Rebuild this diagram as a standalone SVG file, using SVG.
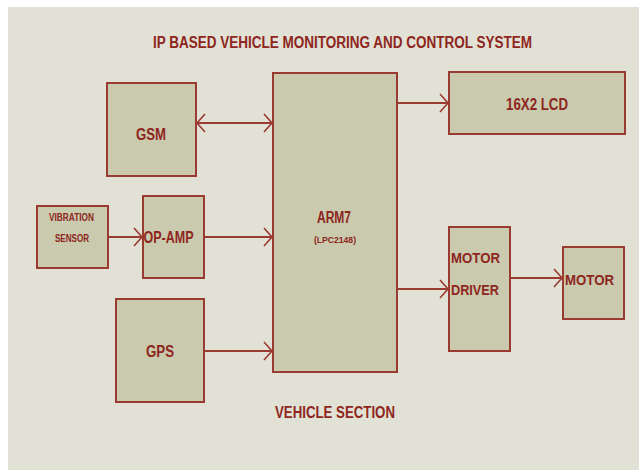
<svg xmlns="http://www.w3.org/2000/svg" width="639" height="470" viewBox="0 0 639 470">
<style>
.box{fill:#c9caae;stroke:#9a3a30;stroke-width:2}
.t{font-family:"Liberation Sans",Arial,sans-serif;font-weight:bold;fill:#8e2620}
.ln{stroke:#9a3a30;stroke-width:2;fill:none}
.hd{stroke:#9a3a30;stroke-width:1.6;fill:none}
</style>
<rect x="0" y="0" width="639" height="470" fill="#ffffff"/>
<rect x="8" y="7" width="631" height="463" fill="#e2e1d5"/>
<text class="t" x="153" y="48" font-size="16" textLength="379" lengthAdjust="spacingAndGlyphs">IP BASED VEHICLE MONITORING  AND CONTROL SYSTEM</text>
<g id="connectors">
<line class="ln" x1="197" y1="123" x2="272" y2="123"/>
<polyline class="hd" points="205,114 197,123 205,132"/>
<polyline class="hd" points="264,114 272,123 264,132"/>
<line class="ln" x1="108" y1="237" x2="142" y2="237"/>
<polyline class="hd" points="134,228 142,237 134,246"/>
<line class="ln" x1="204" y1="237" x2="272" y2="237"/>
<polyline class="hd" points="264,228 272,237 264,246"/>
<line class="ln" x1="204" y1="351" x2="272" y2="351"/>
<polyline class="hd" points="264,342 272,351 264,360"/>
<line class="ln" x1="397" y1="103" x2="448" y2="103"/>
<polyline class="hd" points="440,94 448,103 440,112"/>
<line class="ln" x1="397" y1="289" x2="448" y2="289"/>
<polyline class="hd" points="440,280 448,289 440,298"/>
<line class="ln" x1="510" y1="278" x2="562" y2="278"/>
<polyline class="hd" points="554,269 562,278 554,287"/>
</g>
<g id="gsm">
<rect class="box" x="107" y="83" width="89" height="93"/>
<text class="t" x="136" y="140" font-size="16.5" textLength="30" lengthAdjust="spacingAndGlyphs">GSM</text>
</g>
<g id="arm7">
<rect class="box" x="273" y="73" width="124" height="299"/>
<text class="t" x="317" y="223" font-size="16" textLength="34" lengthAdjust="spacingAndGlyphs">ARM7</text>
<text class="t" x="314" y="243" font-size="9.5" textLength="42" lengthAdjust="spacingAndGlyphs">(LPC2148)</text>
</g>
<g id="lcd">
<rect class="box" x="449" y="72" width="176" height="62"/>
<text class="t" x="506" y="109.5" font-size="16.5" textLength="62" lengthAdjust="spacingAndGlyphs">16X2 LCD</text>
</g>
<g id="vibration">
<rect class="box" x="37" y="206" width="71" height="62"/>
<text class="t" x="49" y="221" font-size="10.5" textLength="45" lengthAdjust="spacingAndGlyphs">VIBRATION</text>
<text class="t" x="55" y="242" font-size="10.5" textLength="34" lengthAdjust="spacingAndGlyphs">SENSOR</text>
</g>
<g id="opamp">
<rect class="box" x="143" y="196" width="61" height="82"/>
<text class="t" x="143.5" y="243" font-size="17" textLength="50" lengthAdjust="spacingAndGlyphs">OP-AMP</text>
</g>
<g id="gps">
<rect class="box" x="116" y="299" width="88" height="103"/>
<text class="t" x="146" y="357" font-size="17" textLength="28" lengthAdjust="spacingAndGlyphs">GPS</text>
</g>
<g id="motordriver">
<rect class="box" x="449" y="227" width="61" height="124"/>
<text class="t" x="451" y="263" font-size="15.5" textLength="49" lengthAdjust="spacingAndGlyphs">MOTOR</text>
<text class="t" x="451" y="295" font-size="15.5" textLength="48" lengthAdjust="spacingAndGlyphs">DRIVER</text>
</g>
<g id="motor">
<rect class="box" x="563" y="247" width="61" height="72"/>
<text class="t" x="565" y="285" font-size="15.5" textLength="49" lengthAdjust="spacingAndGlyphs">MOTOR</text>
</g>
<text class="t" x="275" y="418" font-size="16.5" textLength="120" lengthAdjust="spacingAndGlyphs">VEHICLE SECTION</text>
</svg>
